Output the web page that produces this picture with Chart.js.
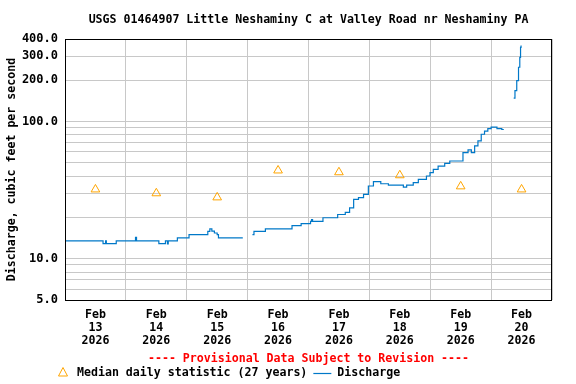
<!DOCTYPE html>
<html>
<head>
<meta charset="utf-8">
<script src="https://cdn.jsdelivr.net/npm/chart.js@4"></script>
<style>
  body { margin: 0; background: #fff; }
  #wrap { width: 576px; height: 384px; }
</style>
</head>
<body>
<div id="wrap"><canvas id="flowChart" width="576" height="384"></canvas></div>
<script>
// USGS 01464907 - discharge, Feb 13-20 2026

const titleText = 'USGS 01464907 Little Neshaminy C at Valley Road nr Neshaminy PA';
const yAxisTitle = 'Discharge, cubic feet per second';
const provisionalText = '---- Provisional Data Subject to Revision ----';
const medianLabel = 'Median daily statistic (27 years)';
const dischargeLabel = 'Discharge';

// x axis: hours since Feb 13 2026 00:00
const monthLabel = 'Feb';
const yearLabel = '2026';
const dayLabels = ['13', '14', '15', '16', '17', '18', '19', '20'];

const yGridValues = [5, 6, 7, 8, 9, 10, 20, 30, 40, 50, 60, 70, 80, 90, 100, 200, 300, 400];
const yLabelValues = [5, 10, 100, 200, 300, 400];

// median daily statistic, plotted at noon of each day
const medianHours = [12, 36, 60, 84, 108, 132, 156, 180];
const medianCfs = [32, 30, 28, 44, 42.7, 40.6, 33.7, 32];

// discharge steps (value holds from its hour until the next one), null = gap
const dischargeHours = [
    0, 15.0, 16.0, 16.3, 20.2, 27.8, 28.2, 37.0, 39.6, 40.4, 40.7, 44.3, 48.9,
    56.3, 57.1, 57.9, 58.9, 60.0, 60.5, 70.1,
    72,
    73.9, 74.5, 79.0, 89.5, 93.1, 96.8, 97.2, 97.6, 101.7, 107.5, 110.5, 112.2,
    113.8, 115.7, 117.7, 119.6, 121.6, 124.5, 127.5, 131.4, 133.4, 134.7, 137.3,
    139.3, 142.5, 143.9, 145.2, 147.1, 149.7, 151.7, 155.6, 156.9, 158.9, 160.2,
    161.5, 162.8, 164.1, 165.4, 166.7, 168.0, 170.3, 172.2, 173.0,
    175,
    176.9, 177.4, 178.1, 178.8, 179.3, 179.6, 179.8
];
const dischargeCfs = [
    13.5, 12.9, 13.5, 12.9, 13.5, 14.3, 13.5, 12.9, 13.5, 12.8, 13.5, 14.2, 15.0,
    15.8, 16.5, 15.9, 15.4, 15.0, 14.2, 14.2,
    null,
    15.0, 15.8, 16.5, 17.4, 18.0, 18.7, 19.3, 18.7, 19.9, 21.0, 21.8, 23.5,
    27.1, 27.9, 29.5, 33.9, 36.5, 35.2, 34.4, 34.4, 33.3, 34.4, 35.9,
    37.9, 40.1, 42.4, 44.8, 47.4, 49.6, 51.6, 51.6, 59.4, 62.1, 59.4,
    66.5, 72.2, 80.8, 85.2, 88.9, 91.2, 88.9, 87.5, 87.5,
    null,
    148, 168, 199, 249, 294, 348, 359
];

const FONT = '"DejaVu Sans Mono", "Liberation Mono", monospace';
const TEXT_SIZE = 11.6;
const BLUE = 'rgb(0, 120, 200)';
const ORANGE = '#FFA500';
const GRID = '#c8c8c8';

// frame, titles and legend drawn straight on the canvas
const decorations = {
    id: 'decorations',
    afterDraw(chart) {
        const { ctx, chartArea: a } = chart;
        const midX = (a.left + a.right) / 2;
        const midY = (a.top + a.bottom) / 2;
        ctx.save();

        ctx.strokeStyle = '#000';
        ctx.lineWidth = 1;
        ctx.strokeRect(a.left + 0.5, a.top + 0.5, a.right - a.left - 1, a.bottom - a.top);

        ctx.font = 'bold ' + TEXT_SIZE + 'px ' + FONT;
        ctx.textBaseline = 'middle';
        ctx.textAlign = 'center';
        ctx.fillStyle = '#000';
        ctx.fillText(titleText, midX, 20);

        ctx.save();
        ctx.translate(12, midY);
        ctx.rotate(-Math.PI / 2);
        ctx.fillText(yAxisTitle, 0, 0);
        ctx.restore();

        ctx.fillStyle = '#f00';
        ctx.fillText(provisionalText, midX, 359);

        // legend
        const ly = 373;
        ctx.strokeStyle = ORANGE;
        ctx.beginPath();
        ctx.moveTo(63, ly - 5.5);
        ctx.lineTo(67.5, ly + 3);
        ctx.lineTo(58.5, ly + 3);
        ctx.closePath();
        ctx.stroke();

        ctx.textAlign = 'left';
        ctx.fillStyle = '#000';
        ctx.fillText(medianLabel, 77, ly);
        let x = 77 + ctx.measureText(medianLabel).width + 6;
        ctx.strokeStyle = BLUE;
        ctx.lineWidth = 1.2;
        ctx.beginPath();
        ctx.moveTo(x, ly + 0.5);
        ctx.lineTo(x + 18, ly + 0.5);
        ctx.stroke();
        ctx.fillText(dischargeLabel, x + 24, ly);

        ctx.restore();
    }
};

const dischargePoints = dischargeHours.map((h, i) => ({ x: h, y: dischargeCfs[i] }));
const medianPoints = medianHours.map((h, i) => ({ x: h, y: medianCfs[i] }));

new Chart(document.getElementById('flowChart'), {
    type: 'line',
    data: {
        datasets: [
            {
                label: medianLabel,
                data: medianPoints,
                showLine: false,
                pointStyle: 'triangle',
                pointRadius: 5,
                pointBorderColor: ORANGE,
                pointBackgroundColor: 'rgba(0,0,0,0)',
                pointBorderWidth: 1
            },
            {
                label: dischargeLabel,
                data: dischargePoints,
                stepped: true,
                spanGaps: false,
                borderColor: BLUE,
                borderWidth: 1.2,
                pointRadius: 0
            }
        ]
    },
    options: {
        responsive: false,
        animation: false,
        layout: { padding: { top: 39, right: 24, bottom: 0, left: 0 } },
        plugins: {
            legend: { display: false },
            title: { display: false },
            tooltip: { enabled: false }
        },
        scales: {
            x: {
                type: 'linear',
                min: 0,
                max: 192,
                afterBuildTicks: scale => {
                    const ticks = [];
                    for (let h = 0; h <= 192; h += 12) ticks.push({ value: h });
                    scale.ticks = ticks;
                },
                afterFit: scale => { scale.height = 84; },
                border: { display: false },
                grid: {
                    drawTicks: false,
                    color: c => (c.tick && c.tick.value % 24 === 0) ? GRID : 'rgba(0,0,0,0)'
                },
                ticks: {
                    autoSkip: false,
                    maxRotation: 0,
                    padding: 8,
                    color: '#000',
                    font: { family: FONT, size: TEXT_SIZE, weight: 'bold', lineHeight: '13px' },
                    callback: v => (v % 24 === 12) ? [monthLabel, dayLabels[(v - 12) / 24], yearLabel] : ''
                }
            },
            y: {
                type: 'logarithmic',
                min: 5,
                max: 400,
                afterBuildTicks: scale => {
                    scale.ticks = yGridValues.map(v => ({ value: v }));
                },
                afterFit: scale => { scale.width = 65; },
                border: { display: false },
                grid: { drawTicks: false, color: GRID },
                ticks: {
                    autoSkip: false,
                    padding: 7,
                    color: '#000',
                    font: { family: FONT, size: 12, weight: 'bold' },
                    callback: v => yLabelValues.includes(v) ? v.toFixed(1) : ''
                }
            }
        }
    },
    plugins: [decorations]
});
</script>
</body>
</html>
